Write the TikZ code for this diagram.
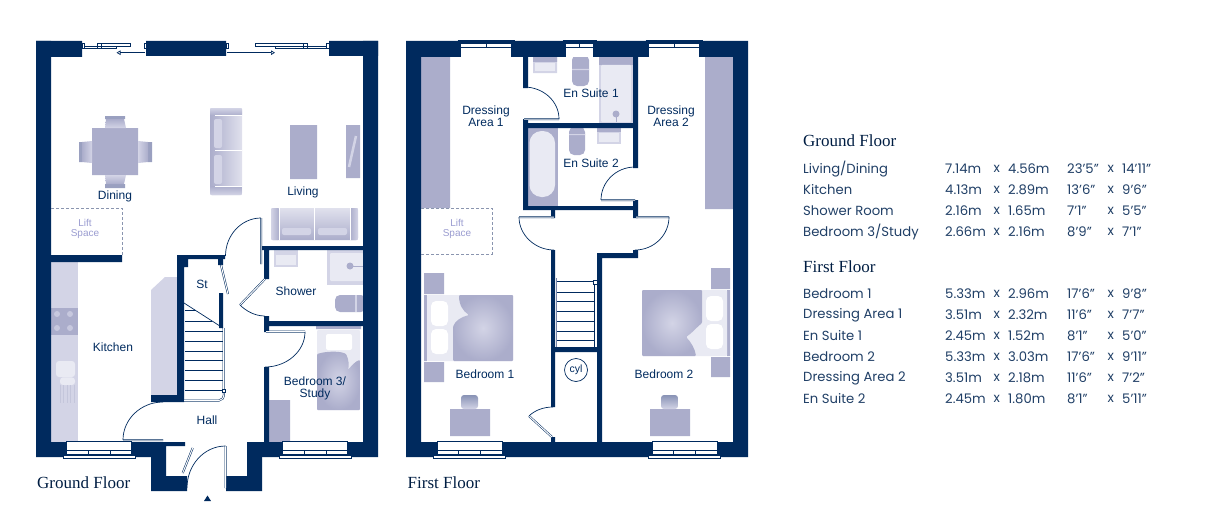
\documentclass[tikz,border=0pt]{standalone}
\usepackage{fontspec}
\newfontfamily\labelfont{Liberation Sans}
\newfontfamily\titlefont{Liberation Serif}
\newfontfamily\tablefont{Poppins}
\usetikzlibrary{arrows.meta}
\definecolor{navy}{HTML}{002A5E}
\definecolor{furn}{HTML}{ABADCB}
\definecolor{furnlight}{HTML}{D3D4E6}
\definecolor{furnpale}{HTML}{E9EAF3}
\definecolor{dashgrey}{HTML}{8A95AF}
\tikzset{leaf/.style={draw=navy, line width=.5pt, double=white, double distance=1pt}}
\tikzset{swing/.style={draw=navy, line width=.7pt}}

\begin{document}
\begin{tikzpicture}[x=1pt, y=-1pt]
\tikzstyle{wall} = [fill=navy]
\tikzstyle{room} = [text=navy, font=\labelfont\fontsize{12}{12}\selectfont, align=center, inner sep=0pt]
\tikzstyle{lift} = [text=furn!90!blue, font=\labelfont\fontsize{10}{10.5}\selectfont, align=center, inner sep=0pt]
\tikzstyle{title} = [text=navy!70!black, font=\titlefont\fontsize{17}{18}\selectfont, inner sep=0pt, anchor=west]
\tikzstyle{cell} = [text=navy!75!gray, font=\tablefont\fontsize{13.2}{15}\selectfont, inner sep=0pt, anchor=west]
\useasboundingbox (0,0) rectangle (1212,519);

% ground floor furniture
\fill[furn] (92,128) rectangle (138,175) (290,125) rectangle (317,179) (346,125) rectangle (360,178);
\draw[furnlight, line width=2.5pt] (356,136) -- (349,167);
\fill[furn!90!navy] (105,116) rectangle (125,119) (105,184) rectangle (125,188) (79,142) rectangle (82,162) (148,142) rectangle (152,162);
\shade[top color=furn, bottom color=furnlight] (106,119) -- (124,119) -- (126,128) -- (105,128) -- cycle;
\shade[top color=furnlight, bottom color=furn] (105,175) -- (126,175) -- (124,184) -- (106,184) -- cycle;
\shade[left color=furn, right color=furnlight] (82,142) -- (92,141) -- (92,163) -- (82,162) -- cycle;
\shade[left color=furnlight, right color=furn] (138,141) -- (148,142) -- (148,162) -- (138,163) -- cycle;

\shade[left color=furn, right color=furnlight!70!white, rounded corners=2pt] (210,108) rectangle (242,195);
\shade[top color=furnlight, bottom color=furn, rounded corners=1pt] (210,108) rectangle (242,115.5);
\shade[top color=furn, bottom color=furnlight, rounded corners=1pt] (210,186) rectangle (242,195);
\draw[white, line width=.7pt] (215,115.7) -- (242,115.7) (215,150.5) -- (242,150.5) (215,186) -- (242,186);
\fill[furnlight, rounded corners=2pt] (214,119) rectangle (222,148) (214,155) rectangle (222,184);

\shade[top color=furnlight!70!white, bottom color=furn, rounded corners=2pt] (271,208) rectangle (358,240);
\shade[left color=furnlight, right color=furn, rounded corners=1pt] (271,208) rectangle (279,240);
\shade[left color=furn, right color=furnlight, rounded corners=1pt] (350,208) rectangle (358,240);
\draw[white, line width=.7pt] (279,208) -- (279,240) (314,208) -- (314,240) (350,208) -- (350,240);
\fill[furnlight, rounded corners=2pt] (282,228) rectangle (311,235) (318,228) rectangle (347,235);

\fill[furnlight] (51,262) rectangle (78,442);
\fill[furnlight] (151,290) -- (165,277) -- (177,277) -- (177,395) -- (151,395) -- cycle;
\fill[furn] (51,308) rectangle (78,335);
\fill[furnlight!70!furn] (57,314) circle (3) (70,314) circle (3) (57,328) circle (3) (70,328) circle (3);
\fill[furnpale, rounded corners=3pt] (56,361) rectangle (75,377) (60,377.5) rectangle (75,385);
\foreach \sx in {60,63.5,67,70.5,74}
  \draw[furn!70!white, line width=.5pt] (\sx,385) -- (\sx,403);

\fill[furnlight] (327,250) rectangle (363,285);
\fill[furnpale, rounded corners=1pt] (330,253) rectangle (363,281);
\fill[furn] (350,266) circle (3.5);
\draw[furn, line width=.7pt] (350,266) -- (363,266);
\fill[furn, rounded corners=5pt] (335,295) rectangle (366,312);
\fill[furnlight] (355,295) rectangle (357,312);
\fill[furnlight] (274,250) rectangle (298,267);
\fill[furnpale] (276,255) rectangle (296,265);

\fill[furn] (316,326) rectangle (361,329) (269,400) rectangle (290,442);
\fill[furnpale, rounded corners=1pt] (317,330) rectangle (360,410);
\fill[white, rounded corners=2pt] (326,334) rectangle (352,350);
\shade[inner color=furnlight, outer color=furn, rounded corners=1pt] (317,354) .. controls (327,351) and (340,351) .. (346,354) .. controls (349,360) and (349,366) .. (348,370) .. controls (352,365) and (356,361) .. (360,360) -- (360,410) -- (317,410) -- cycle;

% ground floor walls
\fill[wall] (36,41) rectangle (82,57) (146,41) rectangle (226,56) (329,41) rectangle (378,56);
\fill[wall] (36,41) rectangle (51,457) (363,41) rectangle (378,457) (36,442) rectangle (151,457) (262,442) rectangle (378,457);
\fill[wall] (151,442) rectangle (166,491) (166,442) rectangle (185,446) (151,476) rectangle (187,491) (226,476) rectangle (262,491) (247,442) rectangle (262,491);
\fill[wall] (51,255) rectangle (122,262) (177,255) rectangle (225,259) (177,255) rectangle (188,267) (177,255) rectangle (184,402) (151,395) rectangle (184,402);
\fill[wall] (218,258) rectangle (223,265) (219,293) rectangle (223,328);
\fill[wall] (261,246) rectangle (363,250) (264,246) rectangle (269,279) (264,316) rectangle (269,332) (264,321) rectangle (363,326) (264,367) rectangle (269,442);

\draw[dashgrey, densely dashed, line width=.7pt] (51,208) -- (122,208) -- (122,255);

% sliding doors
\draw[navy, line width=.6pt, fill=white] (82,43.5) rectangle (84.5,48.5) (84.5,46) rectangle (116.5,48.5) (97.5,43.5) rectangle (130,46) (97.5,43.5) rectangle (101.5,48.5) (144,43.5) rectangle (146,48.5);
\draw[navy, line width=.6pt, fill=white] (226,43.5) rectangle (228.5,48.5) (255,43.5) rectangle (307.5,46) (275,46) rectangle (326.5,48.5) (303,43.5) rectangle (307.5,48.5) (326.5,43.5) rectangle (329,48.5);
\coordinate (slideL) at (145,52.7);
\coordinate (slideLend) at (116.5,52.7);
\coordinate (slideR) at (227,52.7);
\coordinate (slideRend) at (275,52.7);
\draw[navy, line width=.7pt, -{Triangle[open,length=4pt,width=4.5pt]}] (slideL) -- (slideLend);
\draw[navy, line width=.7pt, -{Triangle[open,length=4pt,width=4.5pt]}] (slideR) -- (slideRend);

% ground floor doors
\draw[leaf] (261,218) -- (261,264) (240,305) -- (265,279) (266,331.7) -- (305,331.7) (123,440) -- (163,440) (225.7,446) -- (225.7,488) (192.7,448) -- (182.7,473) (221,265) -- (228,294);
\draw[swing] (261,218) .. controls (241.5,218) and (225.5,235) .. (225.5,256);
\draw[swing] (240,305) .. controls (246,311) and (255,316) .. (264.7,316);
\draw[swing] (305,332) .. controls (305,351) and (287,367) .. (265,367);
\draw[swing] (163,402) .. controls (141,402) and (123,419) .. (123,440);
\draw[swing] (225.7,446) .. controls (204,446) and (187,465) .. (187,488);

% ground floor stairs
\draw[navy, line width=.7pt] (184,303) -- (223,328);
\foreach \ty/\tx in {310.7/196,321/212,331/223,341/223,351/223,360.7/223,370.7/223,380/223,390/223}
  \draw[navy, line width=.7pt] (185,\ty) -- (\tx,\ty);
\draw[leaf] (223.5,328) -- (223.5,392) (184,400.5) -- (219,400.5) .. controls (222,400.5) and (224,398) .. (224,393);
\draw[navy, line width=.6pt, fill=white] (222,389) rectangle (225.5,392.5);

% first floor furniture
\fill[furn] (421,57) rectangle (450,208) (705,57) rectangle (733,209);
\fill[furnlight] (533,57) rectangle (557,73) (599,57) rectangle (633,123);
\fill[furn] (533,57) rectangle (557,62) (599,57) rectangle (633,65);
\fill[furnpale] (535,63) rectangle (555,71) ;
\fill[furnpale, rounded corners=1pt] (601,65) rectangle (631,122);
\fill[furn] (616,114) circle (3.5);
\draw[furn, line width=.7pt] (616,114) -- (616,122);
\fill[furn, rounded corners=5pt] (572,55) rectangle (589,86) (569,127) rectangle (585,155);
\fill[furnlight] (572,69) rectangle (589,70) (569,134) rectangle (585,135);
\fill[furn] (528,128) rectangle (558,206);
\fill[furnpale, rounded corners=12pt] (529.5,131) rectangle (555,197);
\fill[furnlight] (597,128) rectangle (621,144);
\fill[furn] (597,128) rectangle (621,132);
\fill[furnpale] (599,133) rectangle (619,142);

\fill[furn] (424,273) rectangle (444,294) (424,362) rectangle (444,382) (424,295) rectangle (427,361);
\fill[furnpale, rounded corners=1pt] (427,295) rectangle (513,361);
\fill[white, rounded corners=5pt] (431,301) rectangle (448,326) (431,329) rectangle (448,354);
\shade[inner color=furnlight, outer color=furn, rounded corners=1pt] (459,295) .. controls (459,305) and (463,311) .. (469,315) .. controls (461,317) and (455,321) .. (453,327) -- (453,361) -- (513,361) -- (513,295) -- cycle;
\fill[furn] (450,409) rectangle (490,436) (650,409) rectangle (690,436);
\shade[top color=furn!80!navy, bottom color=furnlight, rounded corners=3pt] (461,395) rectangle (478,409);
\shade[top color=furn!80!navy, bottom color=furnlight, rounded corners=3pt] (661,395) rectangle (678,409);

\fill[furn] (711,268) rectangle (730,289) (711,357) rectangle (730,377) (727,290) rectangle (730,356);
\fill[furnpale, rounded corners=1pt] (642,290) rectangle (727,356);
\fill[white, rounded corners=5pt] (706,296) rectangle (723,321) (706,324) rectangle (723,349);
\shade[inner color=furnlight, outer color=furn, rounded corners=1pt] (702,290) -- (702,323) .. controls (696,328) and (692,333) .. (686,337) .. controls (691,342) and (695,349) .. (696,356) -- (642,356) -- (642,290) -- cycle;

% first floor walls
\fill[wall] (406,41) rectangle (748,57) (406,41) rectangle (421,457) (733,41) rectangle (748,457) (406,442) rectangle (748,457);
\fill[wall] (523,57) rectangle (528,88) (523,119) rectangle (528,210) (523,123) rectangle (638,128) (633,57) rectangle (638,168) (523,206) rectangle (638,210) (633,200) rectangle (638,218);
\fill[wall] (551,210) rectangle (555,218) (551,250) rectangle (555,407) (551,437) rectangle (555,442) (597,253) rectangle (638,258) (633,250) rectangle (638,258) (597,253) rectangle (602,442) (551,347) rectangle (602,352);

\draw[dashgrey, densely dashed, line width=.7pt] (421,208) -- (492,208) -- (492,254) -- (421,254);

% first floor doors
\draw[leaf] (524,119) -- (559,119) (601,200) -- (635,200) (519,217) -- (554,217) (636,217) -- (669,217) (529,416) -- (552,437);
\draw[swing] (524,87) .. controls (543,87) and (559,101) .. (559,119);
\draw[swing] (635,167) .. controls (616,167) and (601,182) .. (601,200);
\draw[swing] (519,217) .. controls (519,235) and (535,250) .. (554,250);
\draw[swing] (669,217) .. controls (669,235) and (654,250) .. (635,250);
\draw[swing] (529,416) .. controls (535,410) and (544,407) .. (553,407);

% first floor stairs
\foreach \ty in {281,292,301,311,321,331,340}
  \draw[navy, line width=.7pt] (557,\ty) -- (594,\ty);
\draw[furn!70!navy, line width=1.2pt] (556.5,278) -- (556.5,347);
\draw[leaf] (595,283) -- (595,347);
\draw[navy, line width=.6pt, fill=white] (593,280) rectangle (597,284.5);

% windows
\foreach \wx in {66.7,282.7,437,652} {
  \fill[white] (\wx,441) rectangle ({\wx+65},455);
  \draw[navy, line width=.6pt] (\wx,455) -- (\wx,441.5) -- ({\wx+65},441.5) -- ({\wx+65},455);
  \draw[navy, line width=.6pt] (\wx,450.7) -- ({\wx+65},450.7) (\wx,454.5) -- ({\wx+65},454.5);
  \draw[navy, line width=.6pt] ({\wx+21.6},450.7) -- ({\wx+21.6},454.5) ({\wx+43.3},450.7) -- ({\wx+43.3},454.5);
  \draw[navy, line width=.6pt, fill=white] ({\wx-3.5},455) rectangle ({\wx+68.5},458);
}
\foreach \wx/\ww in {461/50,566/27,649/50} {
  \fill[white] (\wx,48.5) rectangle ({\wx+\ww},57);
  \fill[white] (\wx,44) rectangle ({\wx+\ww},47.3);
  \draw[navy, line width=.6pt] ({\wx-3.5},40.3) -- ({\wx+\ww+3.5},40.3);
  \fill[navy] ({\wx+\ww/2-.5},44) rectangle ({\wx+\ww/2+.5},47.3);
}

\fill[navy] (204,501) -- (207.5,495.5) -- (211,501) -- cycle;

\node[circle, draw=navy, line width=.7pt, minimum size=23pt, inner sep=0pt, text=navy, font=\labelfont\fontsize{10.5}{11}\selectfont] (cyl) at (576,370) {cyl};

\node[room] (dining) at (115,196) {Dining};
\node[room] (living) at (303,192) {Living};
\node[room] (kitchen) at (113,347) {Kitchen};
\node[room] (st) at (202,284) {St};
\node[room] (shower) at (296,291) {Shower};
\node[room] (bed3) at (315,388) {Bedroom 3/\\Study};
\node[room] (hall) at (207,420) {Hall};
\node[room] (dress1) at (486,116) {Dressing\\Area 1};
\node[room] (dress2) at (671,116) {Dressing\\Area 2};
\node[room] (suite1) at (591,93) {En Suite 1};
\node[room] (suite2) at (591,163) {En Suite 2};
\node[room] (bed1) at (485,374) {Bedroom 1};
\node[room] (bed2) at (664,374) {Bedroom 2};
\node[lift] (lift1) at (85,229) {Lift\\Space};
\node[lift] (lift2) at (457,229) {Lift\\Space};
\node[title] (gf) at (37,483) {Ground Floor};
\node[title] (ff) at (407.5,483) {First Floor};

% schedule
\node[title] (gfhead) at (803,141) {Ground Floor};
\node[title] (ffhead) at (803,267) {First Floor};
\foreach \ry/\rname/\mone/\mtwo/\fone/\ftwo in {
  169/Living\slash Dining/7.14m/4.56m/23’5”/14’11”,
  190/Kitchen/4.13m/2.89m/13’6”/9’6”,
  211/Shower Room/2.16m/1.65m/7’1”/5’5”,
  232/Bedroom 3\slash Study/2.66m/2.16m/8’9”/7’1”,
  294/Bedroom 1/5.33m/2.96m/17’6”/9’8”,
  315/Dressing Area 1/3.51m/2.32m/11’6”/7’7”,
  336/En Suite 1/2.45m/1.52m/8’1”/5’0”,
  357/Bedroom 2/5.33m/3.03m/17’6”/9’11”,
  378/Dressing Area 2/3.51m/2.18m/11’6”/7’2”,
  399/En Suite 2/2.45m/1.80m/8’1”/5’11”} {
  \node[cell] (n\ry) at (803,\ry) {\rname};
  \node[cell] (m\ry) at (945,\ry) {\mone};
  \node[cell] (x\ry) at (993.5,\ry) {x};
  \node[cell] (w\ry) at (1008,\ry) {\mtwo};
  \node[cell] (f\ry) at (1067,\ry) {\fone};
  \node[cell] (y\ry) at (1107.5,\ry) {x};
  \node[cell] (g\ry) at (1122,\ry) {\ftwo};
}
\end{tikzpicture}
\end{document}
